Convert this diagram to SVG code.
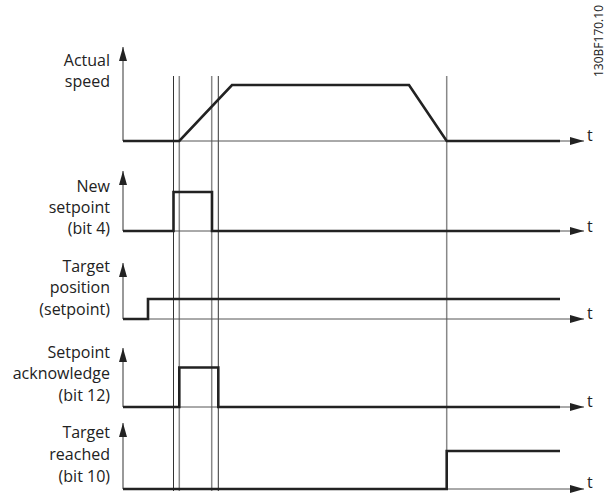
<svg xmlns="http://www.w3.org/2000/svg" width="606" height="493" viewBox="0 0 606 493">
<defs>
<style>
.lbl{font-family:"Open Sans","Liberation Sans",sans-serif;font-size:16px;fill:#222;text-anchor:end}
.t{font-family:"Open Sans","Liberation Sans",sans-serif;font-size:16px;fill:#222}
.code{font-family:"Open Sans","Liberation Sans",sans-serif;font-size:12px;fill:#222}
.axis{stroke:#777;stroke-width:1.5;fill:none}
.haxis{stroke:#555;stroke-width:1;fill:none}
.sig{stroke:#222;stroke-width:2.6;fill:none;stroke-linejoin:miter}
.vk{stroke:#333;stroke-width:1;fill:none}
.vg{stroke:#888;stroke-width:1.5;fill:none}
</style>
<marker id="ah" viewBox="0 0 14 8" refX="14" refY="4" markerWidth="14" markerHeight="8" markerUnits="userSpaceOnUse" orient="auto">
<path d="M0,0 L14,4 L0,8 Z" fill="#222"/>
</marker>
</defs>
<rect width="606" height="493" fill="#fff"/>
<g id="guides">
<line class="vk" x1="173.5" y1="76" x2="173.5" y2="491"/>
<line class="vg" x1="179.3" y1="76" x2="179.3" y2="491"/>
<line class="vg" x1="211.7" y1="76" x2="211.7" y2="491"/>
<line class="vk" x1="218.3" y1="76" x2="218.3" y2="491"/>
<line class="vg" x1="446.7" y1="76" x2="446.7" y2="451"/>
</g>
<g id="connectors">
<line class="axis" x1="123" y1="141" x2="123" y2="47" marker-end="url(#ah)"/>
<line class="haxis" x1="123" y1="141" x2="584" y2="141" marker-end="url(#ah)"/>
<line class="axis" x1="123" y1="231" x2="123" y2="171" marker-end="url(#ah)"/>
<line class="haxis" x1="123" y1="231" x2="584" y2="231" marker-end="url(#ah)"/>
<line class="axis" x1="123" y1="319" x2="123" y2="263" marker-end="url(#ah)"/>
<line class="haxis" x1="123" y1="319" x2="584" y2="319" marker-end="url(#ah)"/>
<line class="axis" x1="123" y1="407" x2="123" y2="348" marker-end="url(#ah)"/>
<line class="haxis" x1="123" y1="407" x2="584" y2="407" marker-end="url(#ah)"/>
<line class="axis" x1="123" y1="489" x2="123" y2="423" marker-end="url(#ah)"/>
<line class="haxis" x1="123" y1="489" x2="584" y2="489" marker-end="url(#ah)"/>
</g>
<g id="speed">
<polyline class="sig" points="123,141 179.3,141 232,85 409,85 446.7,141 560,141"/>
<text class="lbl" x="110" y="66">Actual</text>
<text class="lbl" x="110" y="87">speed</text>
<text class="t" x="587" y="141">t</text>
</g>
<g id="new-setpoint">
<polyline class="sig" points="123,231 173.5,231 173.5,192 212,192 212,231 560,231"/>
<text class="lbl" x="110" y="192">New</text>
<text class="lbl" x="110" y="213">setpoint</text>
<text class="lbl" x="110" y="234">(bit 4)</text>
<text class="t" x="587" y="232">t</text>
</g>
<g id="target-position">
<polyline class="sig" points="123,319 148,319 148,299 560,299"/>
<text class="lbl" x="110" y="272">Target</text>
<text class="lbl" x="110" y="293">position</text>
<text class="lbl" x="110" y="315">(setpoint)</text>
<text class="t" x="587" y="319">t</text>
</g>
<g id="setpoint-ack">
<polyline class="sig" points="123,407 179.3,407 179.3,367.5 218.3,367.5 218.3,407 560,407"/>
<text class="lbl" x="110" y="358">Setpoint</text>
<text class="lbl" x="110" y="379">acknowledge</text>
<text class="lbl" x="110" y="401">(bit 12)</text>
<text class="t" x="587" y="407">t</text>
</g>
<g id="target-reached">
<polyline class="sig" points="123,489 446.7,489 446.7,451 560,451"/>
<text class="lbl" x="110" y="438">Target</text>
<text class="lbl" x="110" y="460">reached</text>
<text class="lbl" x="110" y="482">(bit 10)</text>
<text class="t" x="587" y="488">t</text>
</g>
<text class="code" transform="translate(602.5,77) rotate(-90)">130BF170.10</text>
</svg>
